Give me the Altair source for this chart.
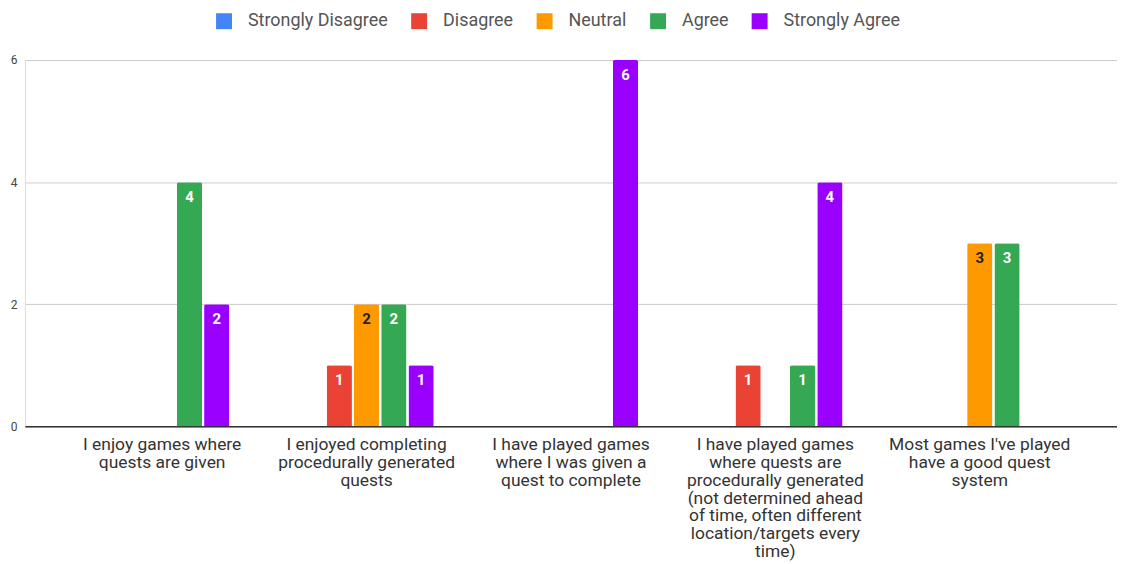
import altair as alt
import pandas as pd

categories = [
    "I enjoy games where\nquests are given",
    "I enjoyed completing\nprocedurally generated\nquests",
    "I have played games\nwhere I was given a\nquest to complete",
    "I have played games\nwhere quests are\nprocedurally generated\n(not determined ahead\nof time, often different\nlocation/targets every\ntime)",
    "Most games I've played\nhave a good quest\nsystem",
]
responses = ["Strongly Disagree", "Disagree", "Neutral", "Agree", "Strongly Agree"]
colors = ["#4285F4", "#EA4335", "#FF9900", "#34A853", "#9900FF"]

strongly_disagree = [0, 0, 0, 0, 0]
disagree = [0, 1, 0, 1, 0]
neutral = [0, 2, 0, 0, 3]
agree = [4, 2, 0, 1, 3]
strongly_agree = [2, 1, 6, 4, 0]

series = [strongly_disagree, disagree, neutral, agree, strongly_agree]
rows = []
for r, vals in zip(responses, series):
    for c, v in zip(categories, vals):
        rows.append({"question": c, "response": r, "count": v})
df = pd.DataFrame(rows)

FONT = "Roboto"

x = alt.X(
    "question:N",
    sort=categories,
    scale=alt.Scale(paddingInner=0.343, paddingOuter=0.343),
    axis=alt.Axis(
        title=None,
        labelAngle=0,
        labelExpr="split(datum.label, '\\n')",
        labelFont=FONT,
        labelFontSize=17.5,
        labelColor="#333333",
        labelLineHeight=18,
        labelPadding=9,
        labelLimit=400,
        labelOverlap=False,
        ticks=False,
        domain=True,
        domainColor="#333333",
        domainWidth=1.5,
        grid=False,
    ),
)
xoff = alt.XOffset(
    "response:N",
    sort=responses,
    scale=alt.Scale(paddingInner=0.074, paddingOuter=0),
)
y = alt.Y(
    "count:Q",
    scale=alt.Scale(domain=[0, 6], nice=False),
    axis=alt.Axis(
        title=None,
        values=[0, 2, 4, 6],
        labelFont=FONT,
        labelFontSize=12,
        labelColor="#444444",
        labelPadding=8,
        ticks=False,
        domain=False,
        gridColor="#cccccc",
        gridWidth=1,
    ),
)
color = alt.Color(
    "response:N",
    sort=responses,
    scale=alt.Scale(domain=responses, range=colors),
    legend=alt.Legend(
        title=None,
        orient="none",
        direction="horizontal",
        legendX=191,
        legendY=-48,
        padding=0,
        symbolType="square",
        symbolSize=256,
        symbolStrokeWidth=0,
        symbolOpacity=1,
        labelFont=FONT,
        labelFontSize=18,
        labelColor="#555555",
        labelOffset=15,
        columnPadding=22,
    ),
)

bars = alt.Chart(df).mark_bar(cornerRadiusTopLeft=2, cornerRadiusTopRight=2).encode(
    x=x, xOffset=xoff, y=y, color=color
)

labels = alt.Chart(df).transform_filter("datum.count > 0").mark_text(
    baseline="top", dy=8, font=FONT, fontSize=15, fontWeight="bold"
).encode(
    x=x,
    xOffset=xoff,
    y=y,
    text=alt.Text("count:Q"),
    color=alt.condition(
        "datum.response == 'Neutral'", alt.value("#222222"), alt.value("#ffffff")
    ),
)

chart = (
    alt.layer(bars, labels)
    .properties(
        width=1097,
        height=368,
        autosize=alt.AutoSizeParams(type="none"),
        padding={"left": 17, "top": 51, "right": 0, "bottom": 136},
    )
    .configure_view(stroke=None)
    .configure(background="white")
)

chart.save("out.html", embed_options={"renderer": "svg", "actions": False})
